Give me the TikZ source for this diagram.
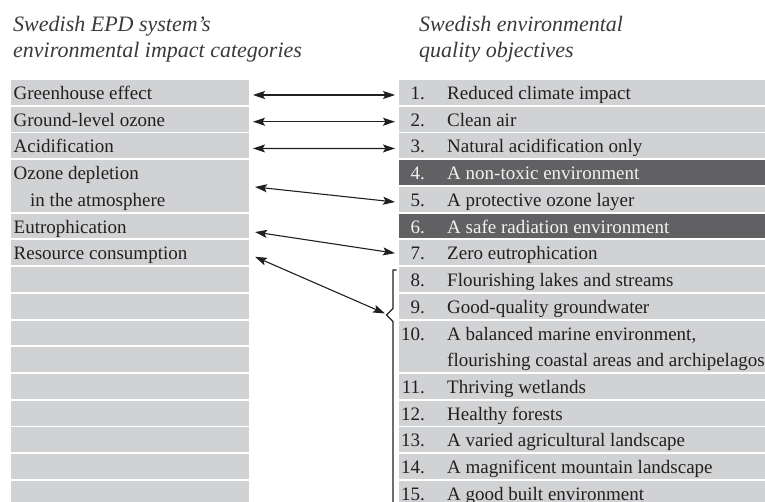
\documentclass[tikz,border=0pt]{standalone}
\usepackage{fontspec}
\setmainfont{Liberation Serif}
\usetikzlibrary{arrows.meta}
\definecolor{cellgray}{HTML}{D1D2D4}
\definecolor{celldark}{HTML}{616163}
\definecolor{ink}{HTML}{231F20}
\definecolor{headink}{HTML}{3A3A3A}
\definecolor{lightink}{HTML}{F2F2F2}
\tikzset{
  cell/.style={fill=cellgray, draw=none, inner sep=0pt, outer sep=0pt, anchor=north west, minimum height=24.8pt},
  lcell/.style={cell, minimum width=238pt},
  rcell/.style={cell, minimum width=380pt},
  dcell/.style={rcell, fill=celldark},
  body/.style={inner sep=0pt, text=ink, font=\fontsize{19}{21}\selectfont},
  txt/.style={body, anchor=base west},
  num/.style={body, anchor=base east},
  ltxt/.style={txt, text=lightink},
  lnum/.style={num, text=lightink},
  head/.style={anchor=base west, inner sep=0pt, text=headink, font=\fontsize{22}{26}\selectfont\itshape},
  link/.style={draw=ink, line width=1.1pt, {Stealth[length=12pt,width=8pt,inset=2.4pt]}-{Stealth[length=12pt,width=8pt,inset=2.4pt]}},
  bracket/.style={draw=ink, line width=1.2pt, line join=miter}
}
\begin{document}
\begin{tikzpicture}[x=1pt,y=-1pt]
\useasboundingbox (0,0) rectangle (765,502);
\clip (0,0) rectangle (765,502);

% headers
\node[head] (hl1) at (13,32) {Swedish EPD system’s};
\node[head] (hl2) at (13,58) {environmental impact categories};
\node[head] (hr1) at (419,32) {Swedish environmental};
\node[head] (hr2) at (419,58) {quality objectives};

% left column
\node[lcell] (L1) at (11,80.00) {};
\node[lcell] (L2) at (11,106.73) {};
\node[lcell] (L3) at (11,133.46) {};
\node[lcell, minimum height=51.53pt] (L4) at (11,160.19) {};
\node[lcell] (L6) at (11,213.65) {};
\node[lcell] (L7) at (11,240.38) {};
\foreach \k in {8,...,16} {
  \node[lcell] (E\k) at (11,{80+(\k-1)*26.73}) {};
}
\node[txt] (tl1) at (13.5,99.5) {Greenhouse effect};
\node[txt] (tl2) at (13.5,126.23) {Ground-level ozone};
\node[txt] (tl3) at (13.5,152.96) {Acidification};
\node[txt] (tl4) at (13.5,179.69) {Ozone depletion};
\node[txt] (tl5) at (30,206.42) {in the atmosphere};
\node[txt] (tl6) at (13.5,233.15) {Eutrophication};
\node[txt] (tl7) at (13.5,259.88) {Resource consumption};

% right column
\foreach \r/\t in {1/Reduced climate impact, 2/Clean air, 3/Natural acidification only,
  5/A protective ozone layer, 7/Zero eutrophication, 8/Flourishing lakes and streams,
  9/Good-quality groundwater} {
  \node[rcell] (R\r) at (399,{80+(\r-1)*26.73}) {};
  \node[num] (n\r) at (425,{80+(\r-1)*26.73+19.5}) {\r.};
  \node[txt] (t\r) at (447,{80+(\r-1)*26.73+19.5}) {\t};
}
\foreach \r/\t in {4/A non-toxic environment, 6/A safe radiation environment} {
  \node[dcell] (R\r) at (399,{80+(\r-1)*26.73}) {};
  \node[lnum] (n\r) at (425,{80+(\r-1)*26.73+19.5}) {\r.};
  \node[ltxt] (t\r) at (447,{80+(\r-1)*26.73+19.5}) {\t};
}
\node[rcell, minimum height=51.53pt] (R10) at (399,320.57) {};
\node[num] (n10) at (425,340.07) {10.};
\node[txt] (t10) at (447,340.07) {A balanced marine environment,};
\node[txt] (t10b) at (447,366.80) {flourishing coastal areas and archipelagos};
\foreach \i/\r/\t in {11/12/Thriving wetlands, 12/13/Healthy forests,
  13/14/A varied agricultural landscape, 14/15/A magnificent mountain landscape,
  15/16/A good built environment} {
  \node[rcell] (R\i) at (399,{80+(\r-1)*26.73}) {};
  \node[num] (n\i) at (425,{80+(\r-1)*26.73+19.5}) {\i.};
  \node[txt] (t\i) at (447,{80+(\r-1)*26.73+19.5}) {\t};
}

% bracket for objectives 8-15
\draw[bracket] (396.5,270) -- (393,270) -- (393,308.5) -- (386.5,315) -- (393,321.5) -- (393,510);
\coordinate (notch) at (385,313.5);

% connectors
\draw[link] ([shift={(4,2.6)}]L1.east) -- ([shift={(-4,2.6)}]R1.west);
\draw[link] ([shift={(4,2.6)}]L2.east) -- ([shift={(-4,2.6)}]R2.west);
\draw[link] ([shift={(4,2.6)}]L3.east) -- ([shift={(-4,2.6)}]R3.west);
\draw[link] ([shift={(6,1)}]L4.east) -- ([shift={(-4,2.7)}]R5.west);
\draw[link] ([shift={(6,6)}]L6.east) -- ([shift={(-4,0.4)}]R7.west);
\draw[link] ([shift={(6,4)}]L7.east) -- (notch);
\end{tikzpicture}
\end{document}
